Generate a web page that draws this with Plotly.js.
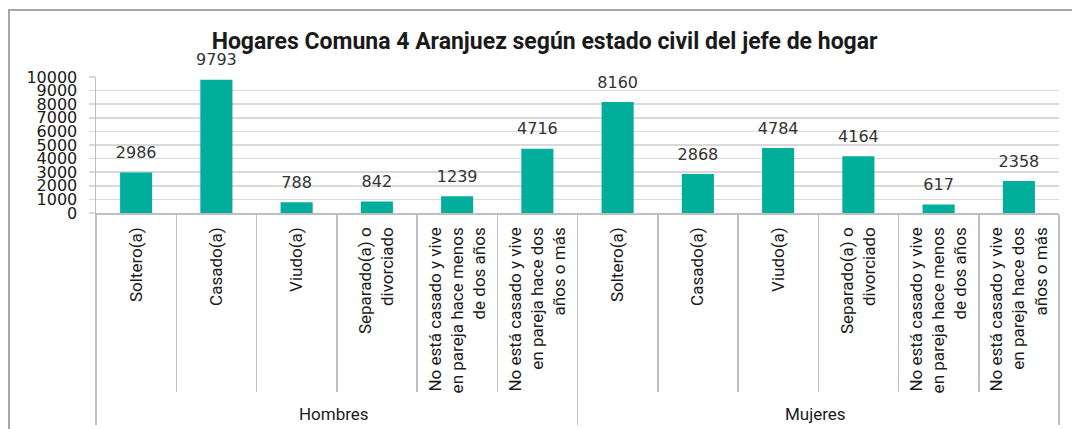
<!DOCTYPE html>
<html>
<head>
<meta charset="utf-8">
<script src="https://cdn.plot.ly/plotly-3.0.1.min.js"></script>
<style>
html,body{margin:0;padding:0;background:#fff;overflow:hidden;}
#chart{position:absolute;left:0;top:0;width:1072px;height:429px;}
#frame{position:absolute;left:8px;top:9px;width:2000px;height:2000px;border-left:2px solid #a6a6a6;border-top:2px solid #a6a6a6;pointer-events:none;}
</style>
</head>
<body>
<div id="chart"></div>
<div id="frame"></div>
<script>
const groups = ["Hombres", "Mujeres"];
const categories = [
  "Soltero(a)",
  "Casado(a)",
  "Viudo(a)",
  "Separado(a) o<br>divorciado",
  "No está casado y vive<br>en pareja hace menos<br>de dos años",
  "No está casado y vive<br>en pareja hace dos<br>años o más"
];
const hombres = [2986, 9793, 788, 842, 1239, 4716];
const mujeres = [8160, 2868, 4784, 4164, 617, 2358];
const yTicks = [0,1000,2000,3000,4000,5000,6000,7000,8000,9000,10000];

const xOuter = [], xInner = [], vals = [];
groups.forEach((g, gi) => {
  const series = gi === 0 ? hombres : mujeres;
  categories.forEach((c, ci) => { xOuter.push(g); xInner.push(c); vals.push(series[ci]); });
});
const nCats = xInner.length;

const bars = {
  type: 'bar',
  x: [xOuter, xInner],
  y: vals,
  marker: {color: '#00AE9B'},
  hoverinfo: 'y',
  showlegend: false
};
const labels = {
  type: 'scatter',
  mode: 'markers+text',
  x: [xOuter, xInner],
  y: vals,
  text: vals.map(String),
  textposition: 'top center',
  textfont: {family: 'DejaVu Sans', size: 16, color: '#333333'},
  marker: {size: 15, opacity: 0},
  hoverinfo: 'skip',
  cliponaxis: false,
  showlegend: false
};

const layout = {
  width: 1072, height: 429,
  margin: {l: 96, r: 13, t: 77, b: 216},
  paper_bgcolor: '#ffffff', plot_bgcolor: '#ffffff',
  bargap: 0.6,
  title: {
    text: '<b>Hogares Comuna 4 Aranjuez según estado civil del jefe de hogar</b>',
    font: {family: 'Roboto', size: 23, color: '#1a1a1a'},
    x: 0.508, xref: 'container', xanchor: 'center',
    y: 0.905, yref: 'container', yanchor: 'middle'
  },
  xaxis: {
    type: 'multicategory',
    range: [-0.5, nCats - 0.5],
    autorange: false,
    tickangle: -90,
    tickfont: {family: 'Roboto', size: 17, color: '#1a1a1a'},
    showline: true, linecolor: '#bfbfbf', linewidth: 1.5,
    ticks: 'outside', tickson: 'boundaries', ticklen: 177, tickcolor: '#bfbfbf', tickwidth: 1.5,
    ticklabelstandoff: 6,
    showdividers: true, dividercolor: '#bfbfbf', dividerwidth: 1.5,
    showgrid: false, zeroline: false, fixedrange: true
  },
  yaxis: {
    range: [0, 10000],
    tickvals: yTicks,
    ticktext: yTicks.map(String),
    tickfont: {family: 'DejaVu Sans', size: 16, color: '#1a1a1a'},
    showgrid: true, gridcolor: '#d9d9d9', gridwidth: 1.5,
    showline: true, linecolor: '#bfbfbf', linewidth: 1.5,
    ticks: 'outside', ticklen: 6, tickcolor: '#d9d9d9', tickwidth: 1.5,
    ticklabelstandoff: 8,
    zeroline: false, fixedrange: true
  }
};

Plotly.newPlot('chart', [bars, labels], layout, {displayModeBar: false, staticPlot: true});
</script>
</body>
</html>
